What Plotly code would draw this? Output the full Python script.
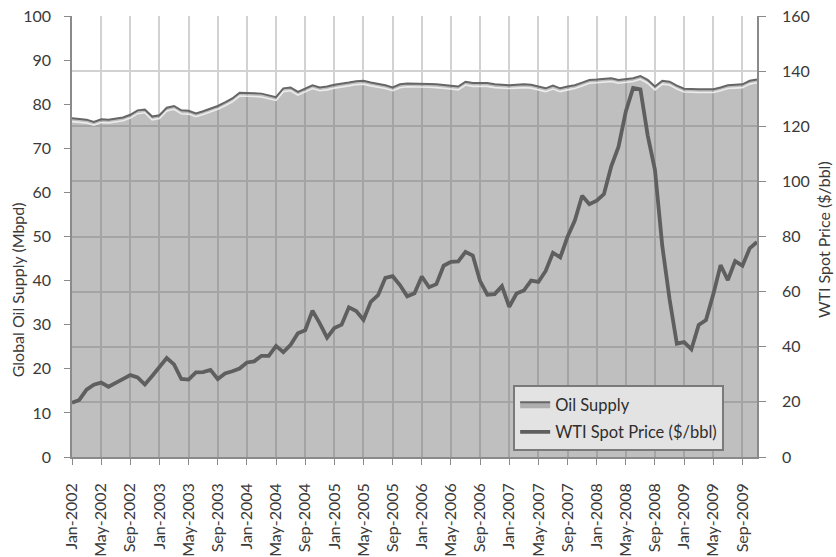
import pandas as pd
import plotly.graph_objects as go

# ---- data (monthly, Jan-2002 .. Nov-2009) ----
months = [d.strftime("%b-%Y") for d in pd.date_range("2002-01-01", periods=95, freq="MS")]

oil_supply = [
    76.8, 76.7, 76.5, 76.0, 76.6, 76.5, 76.8, 77.0, 77.6, 78.6, 78.8, 77.2,
    77.5, 79.2, 79.6, 78.6, 78.5, 77.9, 78.4, 79.0, 79.6, 80.4, 81.3, 82.6,
    82.6, 82.5, 82.4, 82.0, 81.6, 83.6, 83.8, 82.8, 83.5, 84.3, 83.8, 84.0,
    84.4, 84.6, 84.9, 85.2, 85.3, 84.9, 84.6, 84.3, 83.8, 84.5, 84.7, 84.7,
    84.7, 84.6, 84.5, 84.4, 84.2, 84.0, 85.1, 84.8, 84.8, 84.8, 84.5, 84.4,
    84.3, 84.4, 84.5, 84.4, 84.0, 83.6, 84.2, 83.6, 84.0, 84.3, 84.9, 85.5,
    85.6, 85.8, 85.9, 85.5, 85.7, 85.9, 86.4, 85.5, 84.0, 85.3, 85.1, 84.2,
    83.5, 83.4, 83.4, 83.4, 83.4, 83.8, 84.3, 84.4, 84.5, 85.3, 85.6,
]

wti_price = [
    19.7, 20.7, 24.4, 26.2, 27.0, 25.5, 26.9, 28.4, 29.7, 28.9, 26.3, 29.4,
    32.9, 35.9, 33.6, 28.3, 28.1, 30.7, 30.8, 31.6, 28.3, 30.3, 31.1, 32.1,
    34.3, 34.7, 36.7, 36.7, 40.3, 38.0, 40.7, 44.9, 46.0, 53.1, 48.5, 43.3,
    46.8, 48.0, 54.3, 53.0, 49.8, 56.3, 58.7, 65.0, 65.6, 62.4, 58.3, 59.4,
    65.5, 61.6, 62.7, 69.4, 70.8, 71.0, 74.4, 73.1, 63.8, 58.9, 59.1, 62.0,
    54.5, 59.3, 60.4, 64.0, 63.5, 67.5, 74.1, 72.4, 79.9, 85.8, 94.8, 91.7,
    93.0, 95.4, 105.5, 112.6, 125.4, 133.9, 133.4, 116.7, 104.1, 76.6, 57.3, 41.1,
    41.7, 39.1, 47.9, 49.7, 59.0, 69.6, 64.2, 71.1, 69.4, 75.7, 78.0,
]

tick_labels = [
    "Jan-2002", "May-2002", "Sep-2002", "Jan-2003", "May-2003", "Sep-2003",
    "Jan-2004", "May-2004", "Sep-2004", "Jan-2005", "May-2005", "Sep-2005",
    "Jan-2006", "May-2006", "Sep-2006", "Jan-2007", "May-2007", "Sep-2007",
    "Jan-2008", "May-2008", "Sep-2008", "Jan-2009", "May-2009", "Sep-2009",
]

supply_name = "Oil Supply"
price_name = "WTI Spot Price ($/bbl)"
left_title = "Global Oil Supply (Mbpd)"
right_title = "WTI Spot Price ($/bbl)"

FONT = "Lato"
TXT = "#3a3a3a"

fig = go.Figure()

# area: oil supply
fig.add_trace(go.Scatter(
    x=months, y=oil_supply, name=supply_name, mode="lines",
    fill="tozeroy", fillcolor="rgba(95,95,95,0.40)",
    line=dict(color="#666666", width=2),
    legendgroup="a", hoverinfo="skip",
))
# light bevel highlight just under the area's top edge
fig.add_trace(go.Scatter(
    x=months, y=[v - 0.75 for v in oil_supply], mode="lines",
    line=dict(color="rgba(245,245,245,0.85)", width=1.6),
    showlegend=False, hoverinfo="skip",
))
# line: WTI price on secondary axis
fig.add_trace(go.Scatter(
    x=months, y=wti_price, name=price_name, mode="lines", yaxis="y2",
    line=dict(color="#5f5f5f", width=3.8),
    legendgroup="b", hoverinfo="skip",
))

fig.update_layout(
    width=836, height=557,
    margin=dict(l=72, r=79, t=16, b=100, autoexpand=False),
    paper_bgcolor="white", plot_bgcolor="white",
    font=dict(family=FONT, size=16, color=TXT),
    showlegend=True,
    legend=dict(
        x=0.644, y=0.163, xanchor="left", yanchor="top",
        bgcolor="#e3e3e3", bordercolor="#7a7a7a", borderwidth=2,
        font=dict(family=FONT, size=16.5, color="#2e2e2e"),
        traceorder="grouped", tracegroupgap=3,
        itemwidth=30,
    ),
    xaxis=dict(
        type="category", categoryorder="array", categoryarray=months,
        range=[0, len(months) - 1], automargin=False,
        tickmode="array", tickvals=tick_labels, ticktext=tick_labels,
        tickangle=-90, tickfont=dict(size=16, color=TXT),
        ticklabelstandoff=12, ticklabeloverflow="allow",
        showgrid=True, gridcolor="#d2d2d2", gridwidth=1.5,
        showline=True, linecolor="#8a8a8a", linewidth=1.5,
        ticks="outside", ticklen=6, tickcolor="#8a8a8a",
        zeroline=False,
    ),
    yaxis=dict(
        range=[0, 100], dtick=10, tick0=0, automargin=False,
        showgrid=False, zeroline=False,
        showline=True, linecolor="#8a8a8a", linewidth=1.5,
        ticks="outside", ticklen=6, tickcolor="#8a8a8a",
        tickfont=dict(size=16, color=TXT), ticklabelstandoff=10,
        ticklabeloverflow="allow",
    ),
    yaxis2=dict(
        range=[0, 160], dtick=20, tick0=0, automargin=False,
        overlaying="y", side="right",
        showgrid=True, gridcolor="#d2d2d2", gridwidth=1.5, zeroline=False,
        showline=True, linecolor="#8a8a8a", linewidth=1.5,
        ticks="outside", ticklen=7, tickcolor="#8a8a8a",
        tickfont=dict(size=16, color=TXT), ticklabelstandoff=13,
        ticklabeloverflow="allow",
    ),
    annotations=[
        dict(text=left_title, textangle=-90, xref="paper", yref="paper",
             x=-0.0796, y=0.379, xanchor="center", yanchor="middle",
             showarrow=False, font=dict(family=FONT, size=16, color=TXT)),
        dict(text=right_title, textangle=-90, xref="paper", yref="paper",
             x=1.0964, y=0.492, xanchor="center", yanchor="middle",
             showarrow=False, font=dict(family=FONT, size=16, color=TXT)),
    ],
)

# remove the browser's default 8px page margin so the figure sits at (0, 0)
fig.write_html(
    "out.html",
    config={"displayModeBar": False},
    post_script="document.body.style.margin='0';document.body.style.padding='0';",
)
